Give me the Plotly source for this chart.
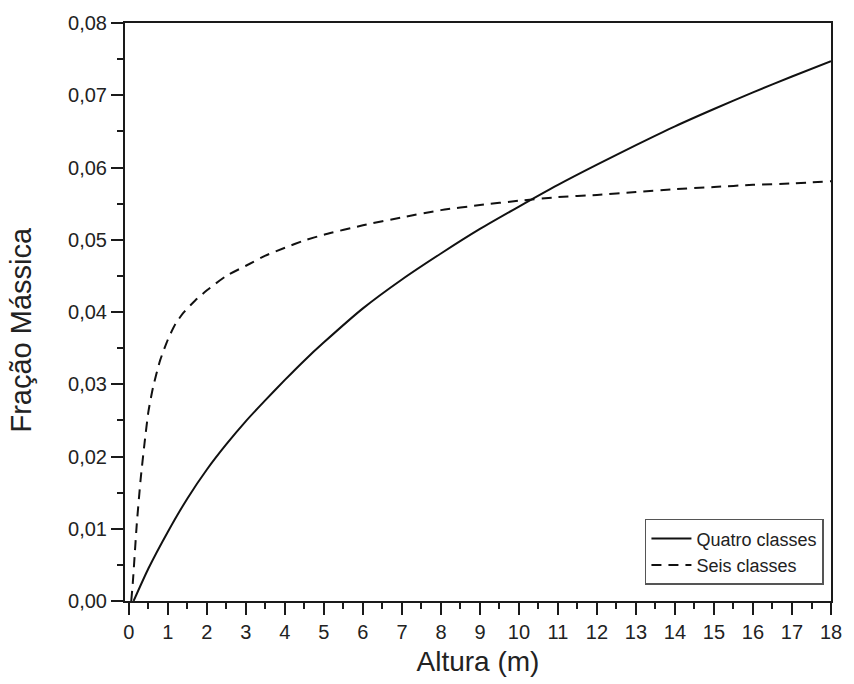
import plotly.graph_objects as go

# Altura (m) vs fração mássica para as duas distribuições de classes
altura_quatro = [0.12, 0.5, 1.0, 1.5, 2.0, 2.5, 3.0, 3.5, 4.0, 4.5, 5.0, 6.0, 7.0,
                 8.0, 9.0, 10.0, 11.0, 12.0, 13.0, 14.0, 15.0, 16.0, 17.0, 18.0]
fracao_quatro = [0.0, 0.0045, 0.0096, 0.0142, 0.0182, 0.0217, 0.0249, 0.0278, 0.0306,
                 0.0333, 0.0358, 0.0405, 0.0445, 0.0481, 0.0515, 0.0546, 0.0576,
                 0.0604, 0.0631, 0.0657, 0.0681, 0.0704, 0.0726, 0.0747]

altura_seis = [0.06, 0.1, 0.2, 0.3, 0.4, 0.5, 0.62, 0.8, 1.0, 1.2, 1.4, 1.7, 2.0, 2.5,
               3.0, 3.5, 4.0, 4.5, 5.0, 6.0, 7.0, 8.0, 9.0, 10.0, 11.0, 12.0, 13.0,
               14.0, 15.0, 16.0, 17.0, 18.0]
fracao_seis = [0.0, 0.0025, 0.0105, 0.0168, 0.0218, 0.0262, 0.0296, 0.0333, 0.0362,
               0.0384, 0.0399, 0.0416, 0.0430, 0.0450, 0.0464, 0.0478, 0.0489, 0.0499,
               0.0507, 0.0520, 0.0531, 0.0541, 0.0548, 0.0554, 0.0559, 0.0562, 0.0566,
               0.0570, 0.0573, 0.0576, 0.0578, 0.0581]

FONT = "Liberation Sans, Arial, sans-serif"
INK = "#222222"

fig = go.Figure()
fig.add_trace(go.Scatter(x=altura_quatro, y=fracao_quatro, mode="lines",
                         name="Quatro classes",
                         line=dict(color="#111111", width=2, shape="spline",
                                   smoothing=0.6)))
fig.add_trace(go.Scatter(x=altura_seis, y=fracao_seis, mode="lines",
                         name="Seis classes",
                         line=dict(color="#111111", width=2, dash="10px,7px",
                                   shape="spline", smoothing=0.6)))

axis_common = dict(
    showgrid=False, zeroline=False, showline=True, linecolor="#1a1a1a",
    linewidth=2, mirror=True, ticks="outside", tickcolor="#1a1a1a",
    tickwidth=2, ticklen=12,
    tickfont=dict(family=FONT, size=20, color=INK),
)

fig.update_layout(
    width=854, height=684,
    margin=dict(l=125, r=15, t=22, b=83),
    paper_bgcolor="white", plot_bgcolor="white",
    separators=",.",
    showlegend=True,
    legend=dict(
        x=0.99, y=0.028, xanchor="right", yanchor="bottom",
        bgcolor="white", bordercolor="#555555", borderwidth=1.5,
        font=dict(family=FONT, size=18, color=INK),
        tracegroupgap=0, itemwidth=40,
    ),
    xaxis=dict(
        range=[-0.1, 18], tickmode="linear", tick0=0, dtick=1,
        minor=dict(ticks="outside", dtick=0.5, ticklen=6, tickwidth=2,
                   tickcolor="#1a1a1a"),
        title=dict(text="Altura (m)", font=dict(family=FONT, size=28, color=INK),
                   standoff=9),
        **axis_common,
    ),
    yaxis=dict(
        range=[0, 0.08], tickmode="linear", tick0=0, dtick=0.01, tickformat=".2f",
        minor=dict(ticks="outside", dtick=0.005, ticklen=6, tickwidth=2,
                   tickcolor="#1a1a1a"),
        **axis_common,
    ),
    annotations=[dict(
        text="Fração Mássica", textangle=-90, showarrow=False,
        xref="paper", yref="paper", x=-0.147, y=0.47,
        xanchor="center", yanchor="middle",
        font=dict(family=FONT, size=29, color=INK),
    )],
)

fig.write_html("out.html")
